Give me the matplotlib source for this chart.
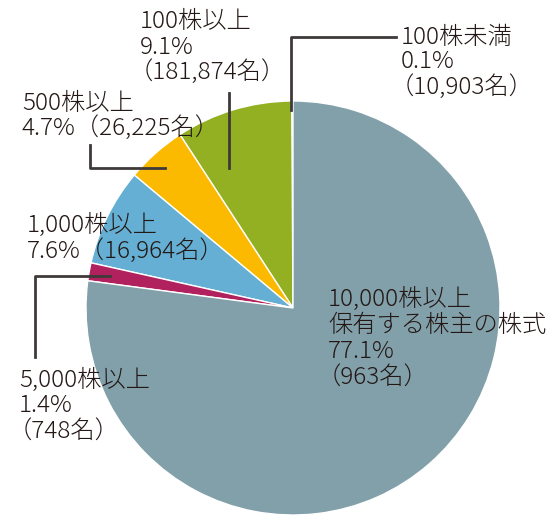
import numpy as np
import matplotlib.pyplot as plt

plt.rcParams['font.family'] = ['Noto Sans CJK JP', 'DejaVu Sans']

# データ（反時計回り、12時の位置から）
categories = ["100株未満", "100株以上", "500株以上", "1,000株以上", "5,000株以上", "10,000株以上"]
shares = [0.1, 9.1, 4.7, 7.6, 1.4, 77.1]
holders = ["10,903", "181,874", "26,225", "16,964", "748", "963"]
colors = ["#e9803a", "#93b022", "#fbb900", "#64afd3", "#b0215e", "#82a0aa"]

W, H = 560, 520
fig = plt.figure(figsize=(W / 100, H / 100), dpi=100)

# 円グラフ本体：中心 (293, 308) px、半径 207 px
cx, cy, r = 293, 308, 207
ax = fig.add_axes([(cx - r) / W, (H - cy - r) / H, 2 * r / W, 2 * r / H])
ax.pie(shares, colors=colors, startangle=90, counterclock=True,
       wedgeprops=dict(edgecolor="white", linewidth=1.0))
ax.set_xlim(-1, 1)
ax.set_ylim(-1, 1)
ax.axis("off")

# ラベルと引き出し線用のピクセル座標の重ね合わせ
ov = fig.add_axes([0, 0, 1, 1])
ov.set_xlim(0, W)
ov.set_ylim(H, 0)
ov.axis("off")
ov.patch.set_alpha(0)

txt_color = "#231815"
line_color = "#3e3a39"
fs = 17.5


def label(x, y, lines, pitch=25.5):
    for i, ln in enumerate(lines):
        dx = -11 if ln.startswith("（") else 0
        ov.text(x + dx, y + i * pitch, ln, fontsize=fs, color=txt_color,
                fontweight="light", ha="left", va="center")


def pct(i):
    return f"{shares[i]}%"


def ppl(i):
    return f"（{holders[i]}名）"


label(401, 37, [categories[0], pct(0), ppl(0)], 25)
label(140, 22, [categories[1], pct(1), ppl(1)], 25)
label(22, 103, [categories[2], pct(2) + ppl(2)], 25)
label(27, 225, [categories[3], pct(3) + ppl(3)], 26)
label(19, 380, [categories[4], pct(4), ppl(4)], 26)
label(328, 299, [categories[5], "保有する株主の株式", pct(5), ppl(5)], 26.3)

# 引き出し線
lw = 2.0
ov.plot([291, 291, 396], [110, 37, 37], color=line_color, lw=lw)
ov.plot([229, 229], [93, 168], color=line_color, lw=lw)
ov.plot([90, 90, 165], [145, 168, 168], color=line_color, lw=lw)
ov.plot([110, 35, 35], [276, 276, 357], color=line_color, lw=lw)

fig.savefig("out.png", dpi=100, facecolor="white")
